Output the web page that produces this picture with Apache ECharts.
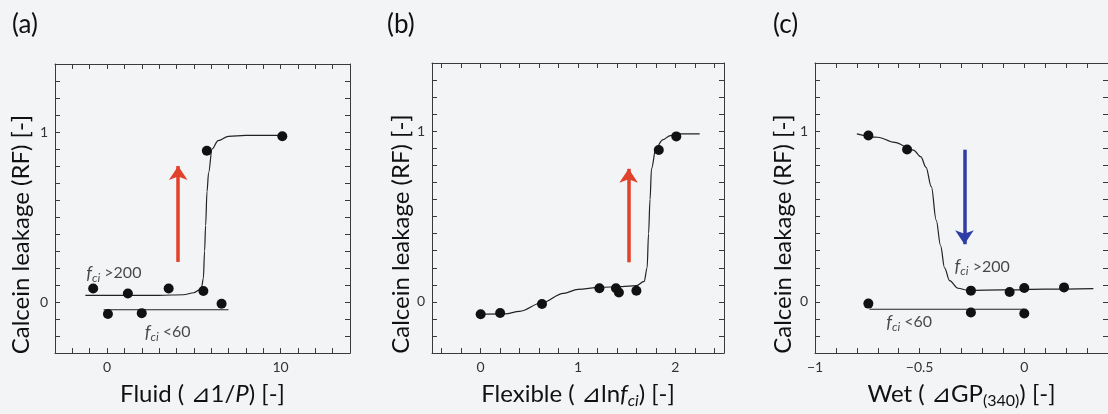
<!DOCTYPE html>
<html>
<head>
<meta charset="utf-8">
<script src="https://cdn.jsdelivr.net/npm/echarts@6/dist/echarts.min.js"></script>
<style>
  html, body { margin: 0; padding: 0; background: #f2f4f6; }
  #chart { width: 1108px; height: 414px; }
</style>
</head>
<body>
<div id="chart"></div>
<script>
// measured points (x, RF)
const pointsA = [[-0.8, 0.08], [0.05, -0.07], [1.2, 0.05], [2, -0.065], [3.55, 0.08], [5.55, 0.065], [5.75, 0.89], [6.6, -0.01], [10.1, 0.975]]
const pointsB = [[0, -0.072], [0.2, -0.065], [0.63, -0.012], [1.22, 0.08], [1.39, 0.08], [1.42, 0.055], [1.6, 0.065], [1.83, 0.89], [2.01, 0.97]]
const pointsC = [[-0.745, 0.975], [-0.56, 0.893], [-0.255, 0.066], [-0.07, 0.058], [0, 0.081], [0.19, 0.085], [-0.745, -0.01], [-0.255, -0.062], [0, -0.068]]

// fitted curves (fci > 200)
const curveA = [[-1.25, 0.04], [1, 0.04], [3, 0.04], [4.4, 0.043], [5.0, 0.055], [5.3, 0.07], [5.45, 0.09], [5.55, 0.14], [5.62, 0.3], [5.68, 0.45], [5.76, 0.65], [5.85, 0.76], [6.05, 0.9], [6.4, 0.95], [7, 0.975], [8, 0.98], [10.1, 0.98]]
const curveB = [[-0.03, -0.072], [0.25, -0.07], [0.4, -0.055], [0.63, -0.005], [0.85, 0.05], [1.0, 0.073], [1.22, 0.085], [1.45, 0.09], [1.6, 0.095], [1.68, 0.12], [1.71, 0.2], [1.725, 0.4], [1.74, 0.6], [1.755, 0.78], [1.8, 0.9], [1.87, 0.95], [1.95, 0.975], [2.05, 0.985], [2.25, 0.985]]
const curveC = [[-0.8, 0.985], [-0.7, 0.965], [-0.62, 0.935], [-0.53, 0.89], [-0.494, 0.85], [-0.47, 0.79], [-0.444, 0.675], [-0.421, 0.48], [-0.4, 0.33], [-0.381, 0.2], [-0.357, 0.125], [-0.317, 0.08], [-0.27, 0.068], [-0.1, 0.07], [0.1, 0.075], [0.33, 0.078]]

// flat lines (fci < 60)
const lowA = [[-0.2, -0.045], [7, -0.045]]
const lowC = [[-0.74, -0.043], [0, -0.043]]

// arrows (start, end)
const arrowA = [[4.1, 0.236], [4.1, 0.8]]
const arrowB = [[1.52, 0.232], [1.52, 0.78]]
const arrowC = [[-0.286, 0.892], [-0.286, 0.338]]

// annotation anchors (left, middle)
const noteHighA = [-1.2, 0.172]
const noteLowA = [2.17, -0.176]
const noteHighC = [-0.333, 0.207]
const noteLowC = [-0.66, -0.116]

// axis ranges and ticks
const yRange = [-0.3, 1.4]
const yTicks = [-0.3, -0.2, -0.1, 0, 0.1, 0.2, 0.3, 0.4, 0.5, 0.6, 0.7, 0.8, 0.9, 1, 1.1, 1.2, 1.3, 1.4]
const yLabels = [0, 1]
const xRangeA = [-3, 14]
const xTicksA = [-3, -2, -1, 0, 1, 2, 3, 4, 5, 6, 7, 8, 9, 10, 11, 12, 13, 14]
const xLabelsA = [0, 10]
const xRangeB = [-0.5, 2.5]
const xTicksB = [-0.4, -0.2, 0, 0.2, 0.4, 0.6, 0.8, 1, 1.2, 1.4, 1.6, 1.8, 2, 2.2, 2.4]
const xLabelsB = [0, 1, 2]
const xRangeC = [-1, 0.4]
const xTicksC = [-1, -0.9, -0.8, -0.7, -0.6, -0.5, -0.4, -0.3, -0.2, -0.1, 0, 0.1, 0.2, 0.3, 0.4]
const xLabelsC = [-1, -0.5, 0]

const FONT = "Lato, 'DejaVu Sans', sans-serif"
const LINE = "#3a3a3a"

const chart = echarts.init(document.getElementById("chart"))

const grids = [
  { left: 55, top: 64, width: 295, height: 293 },
  { left: 432, top: 63, width: 292, height: 292 },
  { left: 815, top: 63, width: 294, height: 292 }
]

// subscripts sit at the bottom of a tall line box
const subRich = {
  i: { fontFamily: FONT, fontSize: 24, fontStyle: "italic", color: "#111", lineHeight: 30 },
  s: { fontFamily: FONT, fontSize: 16, fontStyle: "italic", color: "#111", verticalAlign: "bottom", lineHeight: 14 },
  sub: { fontFamily: FONT, fontSize: 16, color: "#111", verticalAlign: "bottom", lineHeight: 14 }
}

function fmt(v) {
  return String(v).replace("-", "\u2212")
}

function xAxisPair(gridIndex, range, ticks, labels, name) {
  const base = {
    type: "value",
    gridIndex,
    min: range[0],
    max: range[1],
    splitLine: { show: false },
    axisLine: { show: true, onZero: false, lineStyle: { color: LINE, width: 1 } },
    axisTick: { show: true, inside: true, length: 5, customValues: ticks, lineStyle: { color: LINE } }
  }
  return [
    {
      ...base,
      position: "bottom",
      axisLabel: { customValues: labels, formatter: fmt, fontFamily: FONT, fontSize: 14, color: "#333", margin: 7 },
      name,
      nameLocation: "middle",
      nameGap: 24,
      nameTextStyle: { fontFamily: FONT, fontSize: 24, color: "#111", lineHeight: 30, rich: subRich }
    },
    { ...base, position: "top", axisLabel: { show: false } }
  ]
}

function yAxisPair(gridIndex, gap) {
  const base = {
    type: "value",
    gridIndex,
    min: yRange[0],
    max: yRange[1],
    splitLine: { show: false },
    axisLine: { show: true, onZero: false, lineStyle: { color: LINE, width: 1 } },
    axisTick: { show: true, inside: true, length: 5, customValues: yTicks, lineStyle: { color: LINE } }
  }
  return [
    {
      ...base,
      position: "left",
      axisLabel: { customValues: yLabels, fontFamily: FONT, fontSize: 14, color: "#333", margin: 7 },
      name: "Calcein leakage (RF) [-]",
      nameLocation: "middle",
      nameGap: gap,
      nameTextStyle: { fontFamily: FONT, fontSize: 24, color: "#111", padding: [0, 52, 0, 0] }
    },
    { ...base, position: "right", axisLabel: { show: false } }
  ]
}

function dots(xi, yi, data) {
  return {
    type: "scatter", xAxisIndex: xi, yAxisIndex: yi, data,
    symbolSize: 10, itemStyle: { color: "#111", opacity: 1 }, z: 5
  }
}

function curve(xi, yi, data, arrow, arrowColor) {
  const s = {
    type: "line", xAxisIndex: xi, yAxisIndex: yi, data,
    smooth: 0.35, smoothMonotone: "x", showSymbol: false,
    lineStyle: { color: "#222", width: 1.2 }
  }
  if (arrow) {
    s.markLine = {
      silent: true,
      symbol: ["none", "arrow"],
      symbolSize: [14, 14],
      label: { show: false },
      lineStyle: { color: arrowColor, width: 3.5, type: "solid" },
      data: [[{ coord: arrow[0] }, { coord: arrow[1] }]]
    }
  }
  return s
}

function flat(xi, yi, data) {
  return {
    type: "line", xAxisIndex: xi, yAxisIndex: yi, data,
    showSymbol: false, lineStyle: { color: "#222", width: 1.2 }
  }
}

const noteRich = {
  f: { fontFamily: FONT, fontSize: 18, fontStyle: "italic", color: "#1a1a1a", lineHeight: 22 },
  c: { fontFamily: FONT, fontSize: 12, fontStyle: "italic", color: "#1a1a1a", verticalAlign: "bottom", lineHeight: 11 },
  t: { fontFamily: FONT, fontSize: 16, color: "#1a1a1a", lineHeight: 22 }
}

function note(xi, yi, pos, text) {
  return {
    type: "scatter", xAxisIndex: xi, yAxisIndex: yi, data: [pos],
    symbolSize: 0, silent: true,
    label: {
      show: true, position: "right", distance: 0,
      formatter: "{f|f}{c|ci}{t| " + text + "}",
      rich: noteRich
    }
  }
}

const [xa, xaTop] = xAxisPair(0, xRangeA, xTicksA, xLabelsA, "Fluid ( \u22bf1/{i|P}) [-]")
const [xb, xbTop] = xAxisPair(1, xRangeB, xTicksB, xLabelsB, "Flexible ( \u22bfln{i|f}{s|ci}) [-]")
const [xc, xcTop] = xAxisPair(2, xRangeC, xTicksC, xLabelsC, "Wet ( \u22bfGP{sub|(340)}) [-]")
const [ya, yaRight] = yAxisPair(0, 22)
const [yb, ybRight] = yAxisPair(1, 19)
const [yc, ycRight] = yAxisPair(2, 20)

const option = {
  backgroundColor: "#f2f4f6",
  animation: false,
  grid: grids,
  xAxis: [xa, xaTop, xb, xbTop, xc, xcTop],
  yAxis: [ya, yaRight, yb, ybRight, yc, ycRight],
  graphic: [
    { type: "text", left: 12, top: 12, style: { text: "(a)", font: "26px " + FONT, fill: "#111" } },
    { type: "text", left: 387, top: 12, style: { text: "(b)", font: "26px " + FONT, fill: "#111" } },
    { type: "text", left: 773, top: 12, style: { text: "(c)", font: "26px " + FONT, fill: "#111" } }
  ],
  series: [
    // (a)
    curve(0, 0, curveA, arrowA, "#e2412a"),
    flat(0, 0, lowA),
    dots(0, 0, pointsA),
    note(0, 0, noteHighA, ">200"),
    note(0, 0, noteLowA, "<60"),
    // (b)
    curve(2, 2, curveB, arrowB, "#e2412a"),
    dots(2, 2, pointsB),
    // (c)
    curve(4, 4, curveC, arrowC, "#2f3ea6"),
    flat(4, 4, lowC),
    dots(4, 4, pointsC),
    note(4, 4, noteHighC, ">200"),
    note(4, 4, noteLowC, "<60")
  ]
}

chart.setOption(option)
</script>
</body>
</html>
